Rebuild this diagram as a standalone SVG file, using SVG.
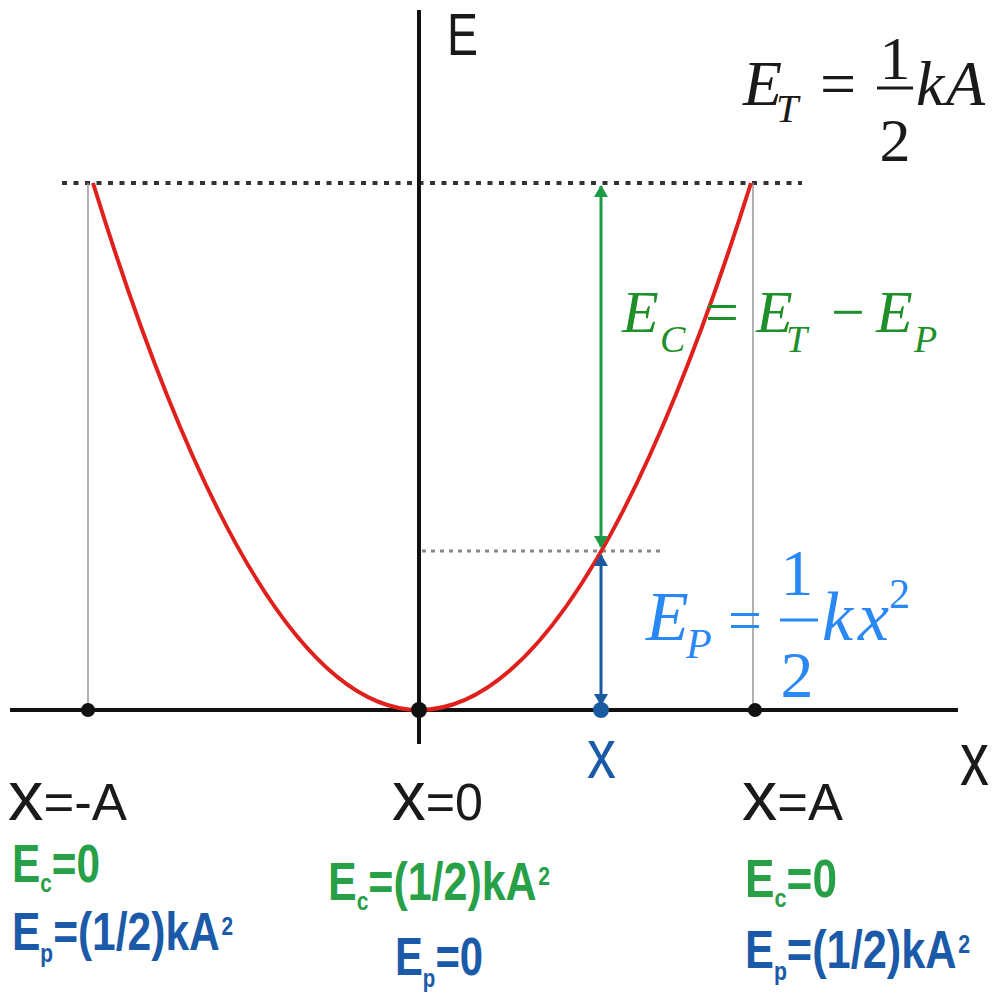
<svg xmlns="http://www.w3.org/2000/svg" width="994" height="993" viewBox="0 0 994 993">
<defs>
<style>
.ax{stroke:#111;stroke-width:4;fill:none}
.guide{stroke:#999;stroke-width:1.5;fill:none}
.dot1{stroke:#333;stroke-width:4;stroke-dasharray:5 6.5;fill:none}
.dot2{stroke:#888;stroke-width:3;stroke-dasharray:4 5;fill:none}
.curve{stroke:#e0201c;stroke-width:4;fill:none}
.ga{stroke:#1c9a45;stroke-width:3;fill:none}
.ba{stroke:#1a5aa0;stroke-width:3;fill:none}
.sans{font-family:"Liberation Sans",Arial,sans-serif}
.bold{font-family:"Liberation Sans",Arial,sans-serif;font-weight:bold}
.serif{font-family:"Liberation Serif","Times New Roman",serif}
.it{font-style:italic}
.lbl{fill:#1a1a1a}
.gt{fill:#27a048}
.bt{fill:#1a5aa8}
.gf{fill:#1f8f2a}
.lb{fill:#2a88f5}
</style>
<marker id="ahg" viewBox="0 0 12 20" refX="11" refY="10" markerWidth="12" markerHeight="20" markerUnits="userSpaceOnUse" orient="auto-start-reverse">
<path d="M0,3 L12,10 L0,17 Z" fill="#1c9a45"/>
</marker>
<marker id="ahb" viewBox="0 0 12 20" refX="11" refY="10" markerWidth="12" markerHeight="20" markerUnits="userSpaceOnUse" orient="auto-start-reverse">
<path d="M0,3 L12,10 L0,17 Z" fill="#1a5aa0"/>
</marker>
</defs>
<rect width="994" height="993" fill="#ffffff"/>

<g id="guides">
<line class="dot1" x1="62" y1="183" x2="802" y2="183"/>
<line class="dot2" x1="422" y1="551" x2="660" y2="551"/>
<line class="guide" x1="88" y1="183" x2="88" y2="710"/>
<line class="guide" x1="753" y1="183" x2="753" y2="710"/>
</g>

<g id="axes">
<line class="ax" x1="10" y1="710" x2="958" y2="710"/>
<line class="ax" x1="419" y1="10" x2="419" y2="744"/>
</g>

<g id="curve">
<path class="curve" d="M93,183 Q256,710 419,710 Q585,710 751,183"/>
</g>

<g id="connectors">
<line class="ga" x1="601" y1="186" x2="601" y2="547" marker-start="url(#ahg)" marker-end="url(#ahg)"/>
<line class="ba" x1="601" y1="555" x2="601" y2="705" marker-start="url(#ahb)" marker-end="url(#ahb)"/>
</g>

<g id="points">
<circle cx="88" cy="710" r="7" fill="#111"/>
<circle cx="419" cy="710" r="8" fill="#111"/>
<circle cx="755" cy="710" r="7" fill="#111"/>
<circle cx="601" cy="710" r="8" fill="#1a5aa0"/>
</g>

<g id="axis-labels">
<text class="sans lbl" x="447" y="55" font-size="60" textLength="31" lengthAdjust="spacingAndGlyphs">E</text>
<text class="sans lbl" x="960" y="785" font-size="76" textLength="29" lengthAdjust="spacingAndGlyphs">x</text>
<text class="sans bt" x="587" y="778" font-size="70" textLength="29" lengthAdjust="spacingAndGlyphs">x</text>
</g>

<g id="formula-total">
<text class="serif it lbl" x="743" y="105" font-size="64">E</text>
<text class="serif it lbl" x="776" y="122" font-size="40">T</text>
<text class="serif lbl" x="820" y="105" font-size="64">=</text>
<text class="serif lbl" x="895" y="79" font-size="62" text-anchor="middle">1</text>
<line x1="877" y1="88" x2="913" y2="88" stroke="#1a1a1a" stroke-width="3"/>
<text class="serif lbl" x="895" y="161" font-size="62" text-anchor="middle">2</text>
<text class="serif it lbl" x="916" y="105" font-size="64">k</text>
<text class="serif it lbl" x="946" y="105" font-size="64">A</text>
</g>

<g id="formula-kinetic">
<text class="serif it gf" x="622" y="332" font-size="60">E</text>
<text class="serif it gf" x="660" y="352" font-size="38">C</text>
<text class="serif gf" x="705" y="332" font-size="60">=</text>
<text class="serif it gf" x="756" y="332" font-size="60">E</text>
<text class="serif it gf" x="786" y="352" font-size="38">T</text>
<text class="serif gf" x="831" y="332" font-size="60">−</text>
<text class="serif it gf" x="876" y="332" font-size="60">E</text>
<text class="serif it gf" x="914" y="352" font-size="38">P</text>
</g>

<g id="formula-potential">
<text class="serif it lb" x="646" y="640" font-size="70">E</text>
<text class="serif it lb" x="686" y="658" font-size="42">P</text>
<text class="serif lb" x="728" y="640" font-size="60">=</text>
<text class="serif lb" x="797" y="595" font-size="66" text-anchor="middle">1</text>
<line x1="780" y1="620" x2="818" y2="620" stroke="#2a88f5" stroke-width="3"/>
<text class="serif lb" x="797" y="697" font-size="66" text-anchor="middle">2</text>
<text class="serif it lb" x="822" y="640" font-size="70">k</text>
<text class="serif it lb" x="858" y="640" font-size="70">x</text>
<text class="serif lb" x="889" y="608" font-size="42">2</text>
</g>

<g id="left-labels">
<text class="sans lbl" x="8" y="820" font-size="52" textLength="119" lengthAdjust="spacingAndGlyphs"><tspan font-size="70">x</tspan>=-A</text>
<text class="bold gt" x="12" y="882" font-size="53" textLength="88" lengthAdjust="spacingAndGlyphs">E<tspan font-size="26" dy="10">c</tspan><tspan dy="-10">=0</tspan></text>
<text class="bold bt" x="12" y="950" font-size="53" textLength="221" lengthAdjust="spacingAndGlyphs">E<tspan font-size="26" dy="12">p</tspan><tspan dy="-12">=(1/2)kA</tspan><tspan font-size="26" dy="-15" dx="2">2</tspan></text>
</g>

<g id="center-labels">
<text class="sans lbl" x="392" y="820" font-size="52" textLength="91" lengthAdjust="spacingAndGlyphs"><tspan font-size="70">x</tspan>=0</text>
<text class="bold gt" x="328" y="900" font-size="53" textLength="222" lengthAdjust="spacingAndGlyphs">E<tspan font-size="26" dy="10">c</tspan><tspan dy="-10">=(1/2)kA</tspan><tspan font-size="26" dy="-15" dx="2">2</tspan></text>
<text class="bold bt" x="395" y="975" font-size="53" textLength="88" lengthAdjust="spacingAndGlyphs">E<tspan font-size="26" dy="12">p</tspan><tspan dy="-12">=0</tspan></text>
</g>

<g id="right-labels">
<text class="sans lbl" x="742" y="820" font-size="52" textLength="101" lengthAdjust="spacingAndGlyphs"><tspan font-size="70">x</tspan>=A</text>
<text class="bold gt" x="745" y="897" font-size="53" textLength="92" lengthAdjust="spacingAndGlyphs">E<tspan font-size="26" dy="10">c</tspan><tspan dy="-10">=0</tspan></text>
<text class="bold bt" x="745" y="968" font-size="53" textLength="225" lengthAdjust="spacingAndGlyphs">E<tspan font-size="26" dy="12">p</tspan><tspan dy="-12">=(1/2)kA</tspan><tspan font-size="26" dy="-15" dx="2">2</tspan></text>
</g>
</svg>
